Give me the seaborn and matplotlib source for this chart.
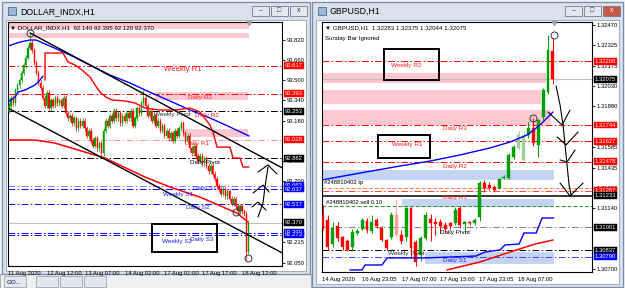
import numpy as np
import pandas as pd
import matplotlib
matplotlib.use("Agg")
import matplotlib.pyplot as plt
import matplotlib.transforms as mtrans
from matplotlib.patches import Rectangle
from matplotlib import font_manager
import seaborn as sns

# ---------------- LEFT: DOLLAR_INDX,H1 ----------------
left_first_open = 93.26
left_close = [93.30, 93.36, 93.32, 93.42, 93.46, 93.50, 93.56, 93.62, 93.68, 93.76,
              93.80, 93.74, 93.64, 93.56, 93.48, 93.44, 93.36, 93.30, 93.40, 93.28,
              93.34, 93.30, 93.36, 93.32, 93.34, 93.30, 93.36, 93.24, 93.20, 93.22,
              93.16, 93.20, 93.12, 93.18, 93.14, 93.18, 93.12, 93.06, 93.10, 93.02,
              92.98, 93.04, 92.96, 93.00, 92.92, 93.10, 93.18, 93.14, 93.22, 93.18,
              93.26, 93.20, 93.24, 93.16, 93.22, 93.18, 93.24, 93.20, 93.26, 93.14,
              93.20, 93.28, 93.24, 93.32, 93.36, 93.30, 93.22, 93.26, 93.18, 93.22,
              93.14, 93.18, 93.10, 93.14, 93.06, 93.10, 93.04, 93.08, 93.02, 93.10,
              93.06, 93.12, 93.16, 93.08, 93.02, 93.06, 92.96, 92.92, 92.98, 92.90,
              92.86, 92.90, 92.84, 92.88, 92.82, 92.78, 92.82, 92.76, 92.72, 92.66,
              92.64, 92.60, 92.64, 92.58, 92.62, 92.56, 92.52, 92.56, 92.50, 92.46,
              92.50, 92.46, 92.44, 92.14, 92.37]
left_high_override = {10: 93.876, 64: 93.42, 114: 92.395}
left_low_override = {32: 93.10, 44: 92.89, 113: 92.07, 114: 92.12}
left_wick = 0.02

left_xticks = [-0.4, 18, 36, 55, 74, 92, 111]
left_xlabels = ["11 Aug 2020", "12 Aug 12:00", "13 Aug 07:00", "14 Aug 02:00",
                "17 Aug 01:00", "17 Aug 17:00", "18 Aug 12:00"]
left_yticks = [93.820, 93.660, 93.500, 93.340, 93.180, 92.860, 92.700, 92.215, 92.050]

left_ma_blue_x = [-0.48, 5.24, 10.0, 12.86, 19.52, 29.05, 38.57, 48.10, 57.62, 64.76,
                  76.67, 86.19, 95.71, 105.24, 114.29]
left_ma_blue_y = [93.772, 93.804, 93.820, 93.820, 93.772, 93.701, 93.622, 93.542, 93.479,
                  93.423, 93.336, 93.264, 93.201, 93.129, 93.058]
left_blue2_x = [-0.48, 2.86, 4.29, 7.62, 12.38, 14.76, 16.19]
left_blue2_y = [93.328, 93.367, 93.407, 93.423, 93.463, 93.502, 93.534]
left_step_x = [17.14, 17.14, 25.71, 28.10, 31.43, 34.76, 38.57, 40.95, 43.33, 46.19, 49.05,
               55.24, 60.0, 64.76, 71.90, 79.05, 86.19, 90.95, 95.71, 97.14, 99.05, 105.24,
               106.67, 110.0, 111.43, 114.29]
left_step_y = [93.502, 93.717, 93.717, 93.645, 93.622, 93.582, 93.526, 93.463, 93.407,
               93.367, 93.344, 93.336, 93.320, 93.280, 93.264, 93.264, 93.280, 93.248,
               93.145, 93.090, 92.970, 92.970, 92.883, 92.883, 92.812, 92.812]
left_ma_red_x = [-0.48, 12.38, 21.90, 37.62, 45.71, 64.76, 76.67, 90.95, 101.90, 108.57, 113.81]
left_ma_red_y = [93.026, 93.026, 93.002, 92.923, 92.883, 92.732, 92.653, 92.573, 92.494,
                 92.446, 92.375]
left_trend_upper_x = [10.0, 130.2]
left_trend_upper_y = [93.876, 92.804]
left_trend_lower_x = [-0.48, 130.2]
left_trend_lower_y = [93.280, 92.129]

left_levels = [(93.617, "#ff0000", "dd"), (93.393, "#ff0000", "dd"), (93.253, "#000000", "dd"),
               (93.028, "#ff9090", "dd"), (92.882, "#000000", "dd"), (92.663, "#8080ff", "dd"),
               (92.637, "#0000ff", "dd"), (92.517, "#0000ff", "dd"), (92.370, "#c0c0c0", "solid"),
               (92.290, "#0000ff", "dd"), (92.273, "#0000ff", "dd")]
left_boxes = [(93.617, "#ff0000"), (93.393, "#ff0000"), (93.253, "#000000"), (93.028, "#ff0000"),
              (92.882, "#000000"), (92.663, "#0000ff"), (92.637, "#0000ff"), (92.517, "#0000ff"),
              (92.370, "#000000"), (92.290, "#0000ff"), (92.273, "#0000ff")]
left_bands = [(-0.48, 114.3, 93.907, 93.963), (-0.48, 114.3, 93.836, 93.876),
              (69.5, 113.8, 93.344, 93.407), (82.86, 113.8, 93.050, 93.113)]
left_labels = [("Weekly R1", 82.86, 93.582, "#ff2020", 5.6), ("Daily R3", 90.95, 93.367, "#ff2020", 4.6),
               ("Weekly Pivot", 77.62, 93.225, "#303030", 4.6), ("Daily R2", 94.29, 93.217, "#ff2020", 4.6),
               ("Daily R1", 89.52, 93.002, "#ff2020", 4.6), ("Daily Pivot", 93.33, 92.851, "#000000", 4.6),
               ("Daily S1", 93.33, 92.640, "#2020ff", 4.6), ("Weekly S1", 80.48, 92.597, "#2020ff", 4.6),
               ("Daily S2", 90.0, 92.494, "#2020ff", 4.6), ("Daily S3", 91.9, 92.240, "#2020ff", 4.6),
               ("Weekly S2", 80.0, 92.224, "#2020ff", 4.6)]
left_box_rect = (68.1, 99.05, 92.137, 92.359)
left_circles = [(10.0, 93.876), (108.1, 92.454), (113.8, 92.089)]
left_strokes = [
    ([118.57, 120.95, 121.90, 123.33], [92.415, 92.526, 92.653, 92.812]),
    ([118.57, 123.33, 127.62], [92.772, 92.828, 92.756]),
    ([116.19, 120.95, 123.81], [92.605, 92.669, 92.613]),
    ([115.71, 118.57, 122.38], [92.494, 92.534, 92.470]),
]

# ---------------- RIGHT: GBPUSD,H1 ----------------
right_open = [1.31092, 1.31055, 1.30880, 1.31010, 1.30930, 1.30900, 1.30860, 1.30960, 1.30990, 1.31050,
              1.30975, 1.31055, 1.31000, 1.30910, 1.30932, 1.31092, 1.30950, 1.30932, 1.31142, 1.30896,
              1.30800, 1.30925, 1.31060, 1.31041, 1.31041, 1.31019, 1.31030, 1.31034, 1.31142, 1.31026,
              1.31041, 1.31034, 1.31077, 1.31324, 1.31309, 1.31295, 1.31288, 1.31360, 1.31360, 1.31512,
              1.31578, 1.31491, 1.31672, 1.31723, 1.31600, 1.31803, 1.31984, 1.32283]
right_high = [1.31164, 1.31092, 1.31040, 1.31040, 1.30940, 1.30920, 1.30990, 1.30990, 1.31070, 1.31070,
              1.31092, 1.31070, 1.31010, 1.30920, 1.31110, 1.31208, 1.30980, 1.31150, 1.31150, 1.30910,
              1.30940, 1.31110, 1.31100, 1.31070, 1.31060, 1.31040, 1.31040, 1.31150, 1.31160, 1.31050,
              1.31050, 1.31070, 1.31340, 1.31346, 1.31330, 1.31310, 1.31360, 1.31380, 1.31540, 1.31600,
              1.31700, 1.31700, 1.31766, 1.31795, 1.31790, 1.32010, 1.32397, 1.32375]
right_low = [1.30983, 1.30838, 1.30860, 1.30900, 1.30838, 1.30830, 1.30840, 1.30950, 1.30980, 1.30960,
             1.30960, 1.31000, 1.30900, 1.30838, 1.30920, 1.30930, 1.30880, 1.30900, 1.30780, 1.30720,
             1.30760, 1.30910, 1.30900, 1.30950, 1.30960, 1.30970, 1.30990, 1.31020, 1.31000, 1.30960,
             1.31020, 1.31020, 1.31050, 1.31260, 1.31270, 1.31260, 1.31280, 1.31350, 1.31350, 1.31500,
             1.31560, 1.31480, 1.31650, 1.31590, 1.31512, 1.31780, 1.31970, 1.32044]
right_close = [1.31005, 1.30860, 1.31000, 1.30925, 1.30860, 1.30840, 1.30968, 1.30975, 1.31055, 1.30980,
               1.31040, 1.31012, 1.30910, 1.30852, 1.31092, 1.30947, 1.30900, 1.31142, 1.30852, 1.30750,
               1.30925, 1.31092, 1.31034, 1.31026, 1.31012, 1.30990, 1.31010, 1.31128, 1.31019, 1.31041,
               1.31034, 1.31055, 1.31324, 1.31288, 1.31288, 1.31273, 1.31353, 1.31367, 1.31527, 1.31585,
               1.31672, 1.31672, 1.31723, 1.31614, 1.31781, 1.31998, 1.32289, 1.32075]
right_pale = [15, 40, 41]

right_xticks = [-0.2, 8.0, 16.2, 23.9, 31.9, 39.9]
right_xlabels = ["14 Aug 2020", "16 Aug 23:05", "17 Aug 07:00", "17 Aug 15:00",
                 "17 Aug 23:05", "18 Aug 07:00"]
right_yticks = [1.32470, 1.32325, 1.32175, 1.32030, 1.31880, 1.31585, 1.31435,
                1.31290, 1.31140, 1.30700]

right_ma_blue_x = [-0.2, 7.57, 15.75, 21.88, 28.0, 34.15, 38.24, 41.72, 44.38, 47.03]
right_ma_blue_y = [1.31346, 1.31396, 1.31447, 1.31483, 1.31527, 1.31578, 1.31621, 1.31672,
                   1.31745, 1.31839]
right_step_x = [5.52, 7.98, 8.59, 12.07, 13.09, 20.86, 31.3, 33.1, 36.2, 37.2, 40.1, 41.1, 43.6,
                44.8, 47.2]
right_step_y = [1.30693, 1.30693, 1.30729, 1.30729, 1.30780, 1.30780, 1.30794, 1.30823, 1.30838,
                1.30874, 1.30881, 1.30961, 1.30961, 1.31070, 1.31070]
right_red_x = [25.36, 32.1, 38.24, 43.35, 47.03]
right_red_y = [1.30693, 1.30751, 1.30823, 1.30881, 1.30910]

right_levels = [(1.32208, "#ff0000", "dd"), (1.32075, "#c0c0c0", "solid"), (1.31744, "#ff0000", "dd"),
                (1.31627, "#ff0000", "dd"), (1.31478, "#ff0000", "dd"), (1.31290, "#ff8040", "dash"),
                (1.31267, "#ff4040", "dd"), (1.31233, "#000000", "thick"), (1.31157, "#20a020", "dash"),
                (1.31001, "#808080", "dd"), (1.30837, "#000000", "dd"), (1.30790, "#4040ff", "dd")]
right_boxes = [(1.32208, "#ff0000"), (1.32075, "#000000"), (1.31744, "#ff0000"), (1.31627, "#ff0000"),
               (1.31478, "#ff0000"), (1.31267, "#ff0000"), (1.31233, "#000000"), (1.31001, "#000000"),
               (1.30837, "#000000"), (1.30790, "#0000ff")]
right_bands = [(-0.2, 45.6, 1.32049, 1.32122, "#ffc8d0"), (-0.2, 44.6, 1.31897, 1.31998, "#ffc8d0"),
               (-0.2, 46.6, 1.31745, 1.31853, "#ffc8d0"), (-0.2, 47.2, 1.31346, 1.31418, "#c4d4f4"),
               (16.2, 47.2, 1.31150, 1.31208, "#c4d4f4"), (20.9, 47.2, 1.30736, 1.30823, "#c4d4f4")]
right_labels = [("Weekly R2", 16.97, 1.32173, "#ff2020"), ("Daily R3", 27.0, 1.31716, "#ff2020"),
                ("Weekly R1", 17.18, 1.31600, "#ff2020"), ("Daily R2", 27.0, 1.31447, "#ff2020"),
                ("Daily R1", 27.0, 1.31222, "#ff2020"), ("Daily Pivot", 27.0, 1.30968, "#000000"),
                ("Weekly Pivot", 16.97, 1.30809, "#303030"), ("Daily S1", 27.0, 1.30758, "#2020ff")]
right_rects = [(12.47, 23.72, 1.32071, 1.32296), (11.25, 21.88, 1.31505, 1.31672)]
right_circles = [(47.24, 1.32397), (42.94, 1.31795)]
right_strokes = [
    ([47.65, 48.47, 49.08, 49.49, 49.90, 50.31, 50.72],
     [1.32028, 1.31890, 1.31745, 1.31600, 1.31454, 1.31309, 1.31237]),
    ([45.99, 48.88, 50.51], [1.31839, 1.31745, 1.31853]),
    ([47.85, 49.69, 52.15], [1.31658, 1.31600, 1.31694]),
    ([48.47, 49.90, 51.53], [1.31491, 1.31476, 1.31563]),
    ([48.47, 50.51, 53.17], [1.31324, 1.31230, 1.31324]),
]

# ---------------- drawing ----------------
sns.set_style("white")
FONT = ['Liberation Sans', 'DejaVu Sans']
installed = {f.name for f in font_manager.fontManager.ttflist}
NARROW = ['Liberation Sans Narrow', 'DejaVu Sans'] if 'Liberation Sans Narrow' in installed else FONT
TICKFS = 5.4 if NARROW[0] == 'Liberation Sans Narrow' else 4.2
plt.rcParams['font.family'] = FONT

W, H = 625, 288
fig = plt.figure(figsize=(W / 100, H / 100), dpi=100, facecolor="#eef1f5")

bg = fig.add_axes([0, 0, 1, 1], zorder=-10)
bg.set_xlim(0, W)
bg.set_ylim(H, 0)
bg.axis("off")


def rect(x0, y0, x1, y1, fc, ec="none", lw=0.8, z=0):
    bg.add_patch(Rectangle((x0, y0), x1 - x0, y1 - y0, facecolor=fc, edgecolor=ec, lw=lw, zorder=z))


rect(0, 274, 311, 288, "#f0f0f0", "#b0b0b0")
for tx, tlabel in [(4, "GO..."), (36, ""), (60, ""), (84, "")]:
    rect(tx, 276, tx + 22, 287, "#e4e8ee", "#9aa4b0", 0.6, 1)
    bg.text(tx + 3, 282, tlabel, fontsize=4.5, va="center", color="#000060", zorder=2)
for (x0, x1, title, active) in [(2, 310, "DOLLAR_INDX,H1", False), (312, 623, "GBPUSD,H1", True)]:
    y1 = 274 if not active else 287
    rect(x0, 2, x1, y1, "#d8e2ed", "#7b8ca2", 0.9, 1)
    rect(x0 + 4, 20, x1 - 4, y1 - 3, "white", "#9aa0a8", 0.6, 2)
    rect(x0 + 6, 7, x0 + 14, 15, "#9ab8d8", "#4a6c90", 0.6, 3)
    bg.text(x0 + 18, 11.5, title, fontsize=6.3, va="center", ha="left", color="#000000", zorder=3)
    bx = x1 - 58
    for k, glyph in enumerate(["\u2013", "\u25a1", "x"]):
        fc = "#c65a45" if (active and k == 2) else "#e2e8f0"
        rect(bx + k * 19, 6, bx + k * 19 + 17, 16, fc, "#6d7d92", 0.6, 3)
        bg.text(bx + k * 19 + 8.5, 11, glyph, fontsize=5, ha="center", va="center",
                color="white" if (active and k == 2) else "#333333", zorder=4)

DD = (0, (7, 2.5, 1.5, 2.5))


def setup_axes(ax, xlim, ylim, xticks, xlabels, yticks, fmt):
    ax.set_facecolor("white")
    ax.set_xlim(*xlim)
    ax.set_ylim(*ylim)
    ax.yaxis.tick_right()
    ax.set_yticks(yticks)
    ax.set_yticklabels([fmt % v for v in yticks], fontsize=TICKFS, family=NARROW)
    ax.set_xticks(xticks)
    ax.set_xticklabels(xlabels, fontsize=TICKFS, ha="left", family=NARROW)
    ax.tick_params(axis="both", length=2, width=0.6, pad=1.5, colors="#000000")
    for s in ax.spines.values():
        s.set_color("black")
        s.set_linewidth(0.8)
    ax.set_xlabel("")
    ax.set_ylabel("")


def draw_candles(ax, o, h, l, c, width, lw, pale=()):
    o = np.asarray(o); h = np.asarray(h); l = np.asarray(l); c = np.asarray(c)
    idx = np.arange(len(c))
    cols = []
    for i in idx:
        up = c[i] >= o[i]
        if i in pale:
            cols.append("#9ed09e" if up else "#ffa0a0")
        else:
            cols.append("#00a000" if up else "#ff0000")
    ax.vlines(idx, l, h, colors=cols, lw=lw, zorder=4)
    ax.bar(idx, np.abs(c - o), bottom=np.minimum(o, c), width=width, color=cols,
           edgecolor=cols, linewidth=0.3, zorder=5)


def draw_levels(ax, levels, x0, x1):
    for price, col, st in levels:
        if st == "dd":
            ax.plot([x0, x1], [price, price], color=col, lw=0.7, ls=DD, zorder=2)
        elif st == "dash":
            ax.plot([x0, x1], [price, price], color=col, lw=0.7, ls=(0, (4, 2)), zorder=2)
        elif st == "thick":
            ax.plot([x0, x1], [price, price], color=col, lw=1.1, zorder=2)
        else:
            ax.plot([x0, x1], [price, price], color=col, lw=0.8, zorder=2)


def draw_boxes(ax, boxes, fmt, ncols):
    tr = mtrans.blended_transform_factory(ax.transAxes, ax.transData)
    for price, col in boxes:
        ax.text(1.0 + 3.0 / ncols, price, fmt % price, transform=tr, fontsize=TICKFS, color="white",
                ha="left", va="center", family=NARROW, zorder=20, clip_on=False,
                bbox=dict(boxstyle="square,pad=0.15", fc=col, ec=col, lw=0.3))


# ---- left axes ----
axL = fig.add_axes([8 / W, 1 - 266 / H, 274 / W, 244 / H])
xlimL = (-0.48, 130.0)
ylimL = (92.026, 93.963)
for x0, x1, y0, y1 in left_bands:
    axL.fill_between([x0, x1], y0, y1, color="#ffc8d0", lw=0, zorder=1)
draw_levels(axL, left_levels, *xlimL)

lo = [left_first_open] + left_close[:-1]
lh = [left_high_override.get(i, max(lo[i], left_close[i]) + left_wick) for i in range(len(left_close))]
ll = [left_low_override.get(i, min(lo[i], left_close[i]) - left_wick) for i in range(len(left_close))]
draw_candles(axL, lo, lh, ll, left_close, 0.65, 0.5)

for xs, ys, col, lw, z in [(left_ma_blue_x, left_ma_blue_y, "#0000ff", 1.0, 6),
                           (left_blue2_x, left_blue2_y, "#0000ff", 1.0, 6),
                           (left_step_x, left_step_y, "#ff0000", 1.0, 6),
                           (left_ma_red_x, left_ma_red_y, "#ff0000", 1.1, 6),
                           (left_trend_upper_x, left_trend_upper_y, "#000000", 1.0, 7),
                           (left_trend_lower_x, left_trend_lower_y, "#000000", 1.0, 7)]:
    sns.lineplot(x=xs, y=ys, ax=axL, color=col, lw=lw, sort=False, estimator=None, zorder=z)
for txt, x, y, col, fs in left_labels:
    axL.text(x, y, txt, color=col, fontsize=fs, ha="center", va="center", zorder=8, family=FONT)
x0, x1, y0, y1 = left_box_rect
axL.add_patch(Rectangle((x0, y0), x1 - x0, y1 - y0, fill=False, ec="black", lw=1.4, zorder=9))
for xs, ys in left_strokes:
    axL.plot(xs, ys, color="black", lw=0.8, zorder=9)
for cx, cy in left_circles:
    axL.plot([cx], [cy], marker="o", ms=5, mfc="none", mec="#333333", mew=0.7, ls="none", zorder=10)
axL.plot([114.3], [93.955], marker="v", ms=3, color="#a0a0a0", clip_on=False, zorder=10)
setup_axes(axL, xlimL, ylimL, left_xticks, left_xlabels, left_yticks, "%.3f")
draw_boxes(axL, left_boxes, "%.3f", 274)
axL.text(0.008, 0.985, "\u25bc DOLLAR_INDX,H1  92.140 92.395 92.120 92.370", transform=axL.transAxes,
         fontsize=4.4, ha="left", va="top", color="black", zorder=20, family=FONT)

# ---- right axes ----
axR = fig.add_axes([322 / W, 1 - 272 / H, 270 / W, 250 / H])
xlimR = (-0.2, 55.0)
ylimR = (1.30678, 1.32492)
for x0, x1, y0, y1, col in right_bands:
    axR.fill_between([x0, x1], y0, y1, color=col, lw=0, zorder=1)
draw_levels(axR, right_levels, *xlimR)
draw_candles(axR, right_open, right_high, right_low, right_close, 0.6, 0.7, pale=right_pale)
for xs, ys, col, lw in [(right_ma_blue_x, right_ma_blue_y, "#0000ff", 1.0),
                        (right_step_x, right_step_y, "#0000ff", 1.0),
                        (right_red_x, right_red_y, "#ff0000", 1.1)]:
    sns.lineplot(x=xs, y=ys, ax=axR, color=col, lw=lw, sort=False, estimator=None, zorder=6)
for txt, x, y, col in right_labels:
    axR.text(x, y, txt, color=col, fontsize=4.6, ha="center", va="center", zorder=8, family=FONT)
axR.text(0.3, 1.31331, "#248810402 tp", color="black", fontsize=4.2, ha="left", va="center",
         zorder=8, family=FONT)
axR.text(0.7, 1.31179, "#248810402 sell 0.10", color="black", fontsize=4.2, ha="left", va="center",
         zorder=8, family=FONT)
for x0, x1, y0, y1 in right_rects:
    axR.add_patch(Rectangle((x0, y0), x1 - x0, y1 - y0, fill=False, ec="black", lw=1.4, zorder=9))
for xs, ys in right_strokes:
    axR.plot(xs, ys, color="black", lw=0.8, zorder=9)
for cx, cy in right_circles:
    axR.plot([cx], [cy], marker="o", ms=5, mfc="none", mec="#333333", mew=0.7, ls="none", zorder=10)
axR.plot([47.2], [1.32485], marker="v", ms=3, color="#a0a0a0", clip_on=False, zorder=10)
setup_axes(axR, xlimR, ylimR, right_xticks, right_xlabels, right_yticks, "%.5f")
draw_boxes(axR, right_boxes, "%.5f", 270)
axR.text(0.01, 0.985, "\u25bc GBPUSD,H1  1.32283 1.32375 1.32044 1.32075", transform=axR.transAxes,
         fontsize=4.4, ha="left", va="top", color="black", zorder=20, family=FONT)
axR.text(0.01, 0.945, "Sunday Bar Ignored", transform=axR.transAxes,
         fontsize=4.4, ha="left", va="top", color="black", zorder=20, family=FONT)

fig.savefig("out.png", dpi=100, facecolor=fig.get_facecolor())
